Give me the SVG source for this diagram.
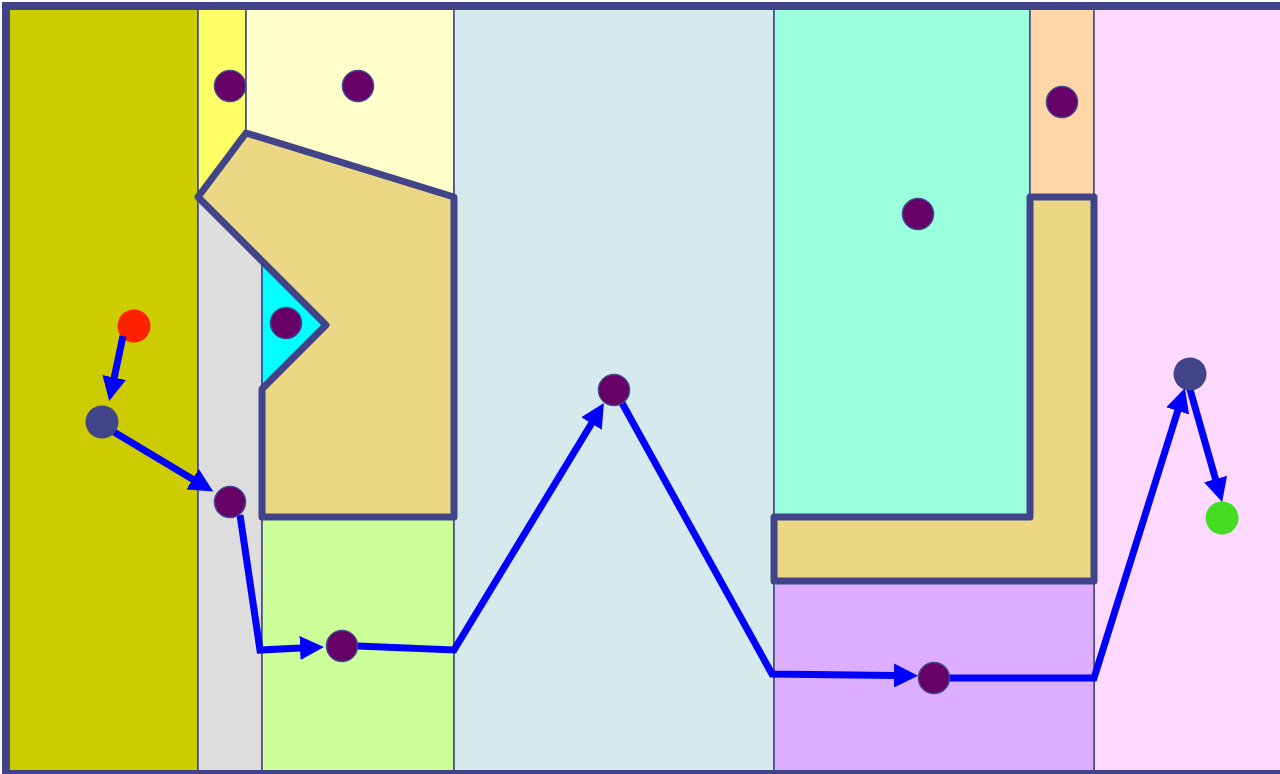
<svg xmlns="http://www.w3.org/2000/svg" width="1280" height="774" viewBox="0 0 1280 774">
  <style>
    .cell { stroke: #414489; stroke-width: 1.5; }
    .wall { fill: #ebd784; stroke: #414489; stroke-width: 7; stroke-linejoin: round; }
    .dot { fill: #660066; stroke: #414489; stroke-width: 1.5; }
    .edge { fill: none; stroke: #0000ff; stroke-width: 7; stroke-linejoin: miter; }
  </style>
  <defs>
    <marker id="arrow" markerUnits="userSpaceOnUse" viewBox="0 0 24 24" refX="1" refY="12" markerWidth="24" markerHeight="24" orient="auto">
      <path d="M0,0 L24,12 L0,24 z" fill="#0000ff"/>
    </marker>
  </defs>

  <g id="regions">
    <rect class="cell" x="6" y="6" width="192" height="768" fill="#cccc00"/>
    <rect class="cell" x="198" y="6" width="48" height="200" fill="#ffff66"/>
    <rect class="cell" x="246" y="6" width="208" height="200" fill="#ffffcc"/>
    <rect class="cell" x="198" y="197" width="64" height="577" fill="#dddddd"/>
    <polygon class="cell" points="262,261 326,325 262,389" fill="#00ffff"/>
    <rect class="cell" x="262" y="510" width="192" height="264" fill="#ccff99"/>
    <rect class="cell" x="454" y="6" width="320" height="768" fill="#d6eaee"/>
    <rect class="cell" x="774" y="6" width="256" height="520" fill="#99ffdd"/>
    <rect class="cell" x="1030" y="6" width="64" height="200" fill="#ffd6a8"/>
    <rect class="cell" x="1094" y="6" width="190" height="768" fill="#ffd9ff"/>
    <rect class="cell" x="774" y="575" width="320" height="199" fill="#ddaeff"/>
  </g>

  <g id="walls">
    <polygon id="wall-left" class="wall" points="246,133 454,197 454,517 262,517 262,389 326,325 198,197"/>
    <polygon id="wall-right" class="wall" points="1030,197 1094,197 1094,581 774,581 774,517 1030,517"/>
  </g>

  <rect id="frame" x="6" y="6" width="1278" height="768" fill="none" stroke="#414489" stroke-width="8"/>

  <g id="node-start"><circle cx="134" cy="326" r="16.5" fill="#ff2200"/></g>
  <g id="node-end"><circle cx="1222" cy="518" r="16.5" fill="#44dd22"/></g>

  <g id="connectors">
    <path class="edge" d="M123,336 L114,378.5" marker-end="url(#arrow)"/>
    <path class="edge" d="M114,432 L193.5,479.7" marker-end="url(#arrow)"/>
    <path class="edge" d="M240,515 L260,650 L301,648" marker-end="url(#arrow)"/>
    <path class="edge" d="M358,646 L454,650 L592,422.7" marker-end="url(#arrow)"/>
    <path class="edge" d="M622,403 L772,674 L895,675.5" marker-end="url(#arrow)"/>
    <path class="edge" d="M950,678 L1094,678 L1178,410" marker-end="url(#arrow)"/>
    <path class="edge" d="M1189,386 L1215.8,480" marker-end="url(#arrow)"/>
  </g>

  <g id="node-a"><circle cx="102" cy="422" r="16.5" fill="#414489"/></g>
  <g id="node-b"><circle cx="1190" cy="374" r="16.5" fill="#414489"/></g>
  <g id="node-1"><circle class="dot" cx="230" cy="86" r="15.5"/></g>
  <g id="node-2"><circle class="dot" cx="358" cy="86" r="15.5"/></g>
  <g id="node-3"><circle class="dot" cx="286" cy="323" r="15.5"/></g>
  <g id="node-4"><circle class="dot" cx="230" cy="502" r="15.5"/></g>
  <g id="node-5"><circle class="dot" cx="342" cy="646" r="15.5"/></g>
  <g id="node-6"><circle class="dot" cx="614" cy="390" r="15.5"/></g>
  <g id="node-7"><circle class="dot" cx="918" cy="214" r="15.5"/></g>
  <g id="node-8"><circle class="dot" cx="1062" cy="102" r="15.5"/></g>
  <g id="node-9"><circle class="dot" cx="934" cy="678" r="15.5"/></g>
</svg>
